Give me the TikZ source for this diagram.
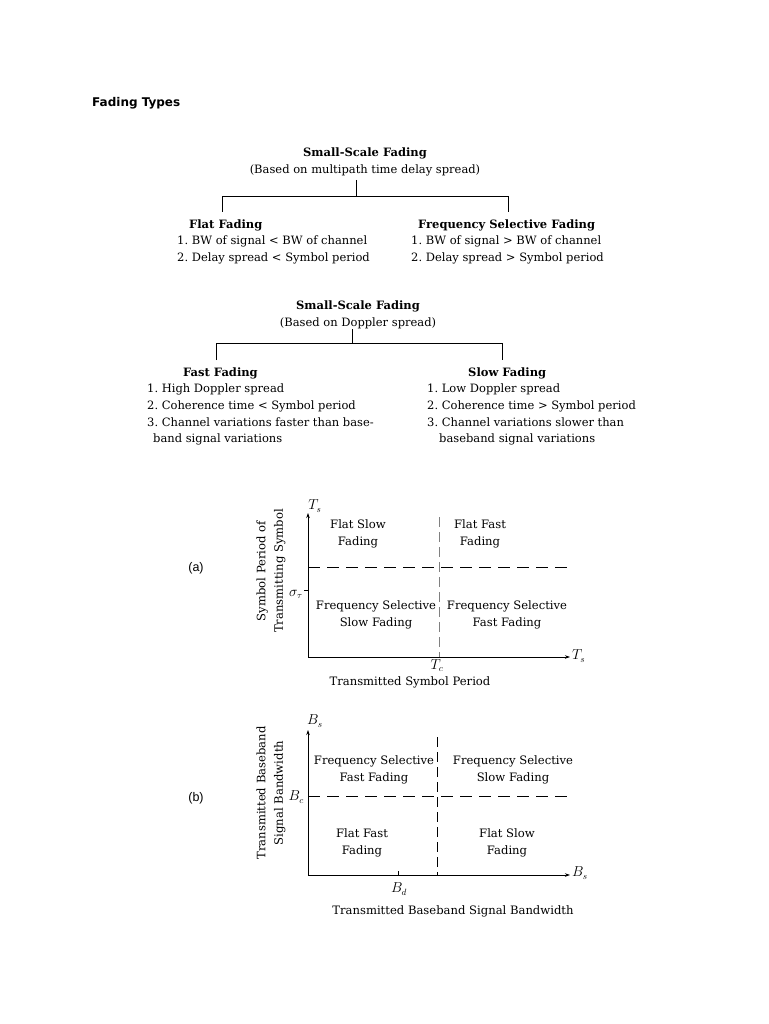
\documentclass[tikz,border=0pt]{standalone}
\usepackage{fontspec}
\setmainfont{DejaVu Serif}
\newfontfamily\labfont{Liberation Sans}
\newfontfamily\ttlfont{DejaVu Sans}
\usetikzlibrary{arrows.meta}
\begin{document}
\frenchspacing
\begin{tikzpicture}[x=1pt,y=-1pt,
  txt/.style={font=\fontsize{11.5}{17}\selectfont, inner sep=0pt},
  hd/.style={font=\fontsize{11.5}{17}\selectfont\bfseries, inner sep=0pt, anchor=base},
  lst/.style={txt, align=left, anchor=base west},
  ctxt/.style={font=\fontsize{11.6}{17.5}\selectfont, inner sep=0pt, align=center},
  mth/.style={font=\fontsize{13.5}{15}\selectfont, inner sep=0pt},
  axis/.style={line width=0.8pt, -{Stealth[length=5pt,width=3.5pt]}},
  hdash/.style={line width=0.7pt, dash pattern=on 12pt off 7pt},
  vdash/.style={line width=0.6pt, gray, dash pattern=on 10pt off 5pt},
  tree/.style={line width=0.8pt},
  side/.style={font=\labfont\fontsize{12.5}{14}\selectfont, inner sep=0pt}]
\useasboundingbox[fill=white] (0,0) rectangle (768,1024);

% title
\node[font=\ttlfont\bfseries\fontsize{12}{14}\selectfont, inner sep=0pt, anchor=base west] (title) at (92,107) {Fading Types};

% ---------- Tree 1 ----------
\node[hd] (r1) at (365,157) {Small-Scale Fading};
\node[txt, anchor=base] (r1s) at (365,174) {(Based on multipath time delay spread)};
\coordinate (j1t) at (356,180);
\coordinate (j1) at (356,196);
\coordinate (l1) at (222,196);
\coordinate (l1b) at (222,212);
\coordinate (r1c) at (508,196);
\coordinate (r1b) at (508,212);
\draw[tree] (j1t) -- (j1);
\draw[tree] (l1b) -- (l1) -- (r1c) -- (r1b);
\node[hd, anchor=base west] (flat) at (189,229) {Flat Fading};
\node[lst] (flatl) at (177,261) {1. BW of signal < BW of channel\\2. Delay spread < Symbol period};
\node[hd, anchor=base west] (fsel) at (418,229) {Frequency Selective Fading};
\node[lst] (fsell) at (411,261) {1. BW of signal > BW of channel\\2. Delay spread > Symbol period};

% ---------- Tree 2 ----------
\node[hd] (r2) at (358,309) {Small-Scale Fading};
\node[txt, anchor=base] (r2s) at (358,326) {(Based on Doppler spread)};
\coordinate (j2t) at (352,329);
\coordinate (j2) at (352,343);
\coordinate (l2) at (216,343);
\coordinate (l2b) at (216,360);
\coordinate (r2c) at (502,343);
\coordinate (r2b) at (502,360);
\draw[tree] (j2t) -- (j2);
\draw[tree] (l2b) -- (l2) -- (r2c) -- (r2b);
\node[hd, anchor=base west] (fast) at (183,376) {Fast Fading};
\node[lst] (fastl) at (147,442) {1. High Doppler spread\\2. Coherence time < Symbol period\\3. Channel variations faster than base-\\[-1.5pt]\hspace*{6pt}band signal variations};
\node[hd, anchor=base west] (slow) at (468,376) {Slow Fading};
\node[lst] (slowl) at (427,442) {1. Low Doppler spread\\2. Coherence time > Symbol period\\3. Channel variations slower than\\[-1.5pt]\hspace*{12pt}baseband signal variations};

% ---------- Chart (a) ----------
\coordinate (oa) at (308,657);
\coordinate (ya) at (308,513);
\coordinate (xa) at (570,657);
\coordinate (tcb) at (439,657);
\coordinate (tct) at (439,517);
\coordinate (sa1) at (308,567);
\coordinate (sa2) at (568,567);
\coordinate (st1) at (304,590);
\coordinate (st2) at (308,590);
\draw[vdash] (tct) -- (tcb);
\draw[hdash] (sa1) -- (sa2);
\draw[line width=0.6pt] (st1) -- (st2);
\draw[axis] (oa) -- (ya);
\draw[axis] (oa) -- (xa);
\node[mth] (tsy) at (315,506) {$T_s$};
\node[mth, anchor=west] (tsx) at (572,656) {$T_s$};
\node[mth, anchor=north] (tc) at (437,659) {$T_c$};
\node[mth, anchor=east] (sig) at (303,594) {$\sigma_\tau$};
\node[ctxt] (a1) at (358,534) {Flat Slow\\Fading};
\node[ctxt] (a2) at (480,534) {Flat Fast\\Fading};
\node[ctxt] (a3) at (376,615) {Frequency Selective\\Slow Fading};
\node[ctxt] (a4) at (507,615) {Frequency Selective\\Fast Fading};
\node[ctxt] (ax) at (410,682) {Transmitted Symbol Period};
\node[ctxt, rotate=90] (ay) at (271,571) {Symbol Period of\\Transmitting Symbol};
\node[side] (la) at (196,568) {(a)};

% ---------- Chart (b) ----------
\coordinate (ob) at (308,875);
\coordinate (yb) at (308,730);
\coordinate (xb) at (570,875);
\coordinate (vb1) at (437,737);
\coordinate (vb2) at (437,875);
\coordinate (hb1) at (308,796);
\coordinate (hb2) at (568,796);
\coordinate (bd1) at (398,875);
\coordinate (bd2) at (398,871);
\draw[vdash, black] (vb1) -- (vb2);
\draw[hdash] (hb1) -- (hb2);
\draw[line width=0.6pt] (bd1) -- (bd2);
\draw[axis] (ob) -- (yb);
\draw[axis] (ob) -- (xb);
\node[mth] (bsy) at (315,721) {$B_s$};
\node[mth, anchor=west] (bsx) at (572,873) {$B_s$};
\node[mth, anchor=east] (bc) at (304,797) {$B_c$};
\node[mth] (bd) at (399,889) {$B_d$};
\node[ctxt] (b1) at (374,770) {Frequency Selective\\Fast Fading};
\node[ctxt] (b2) at (513,770) {Frequency Selective\\Slow Fading};
\node[ctxt] (b3) at (362,843) {Flat Fast\\Fading};
\node[ctxt] (b4) at (507,843) {Flat Slow\\Fading};
\node[ctxt] (bx) at (453,911) {Transmitted Baseband Signal Bandwidth};
\node[ctxt, rotate=90] (by) at (271,793) {Transmitted Baseband\\Signal Bandwidth};
\node[side] (lb) at (196,798) {(b)};
\end{tikzpicture}
\end{document}
